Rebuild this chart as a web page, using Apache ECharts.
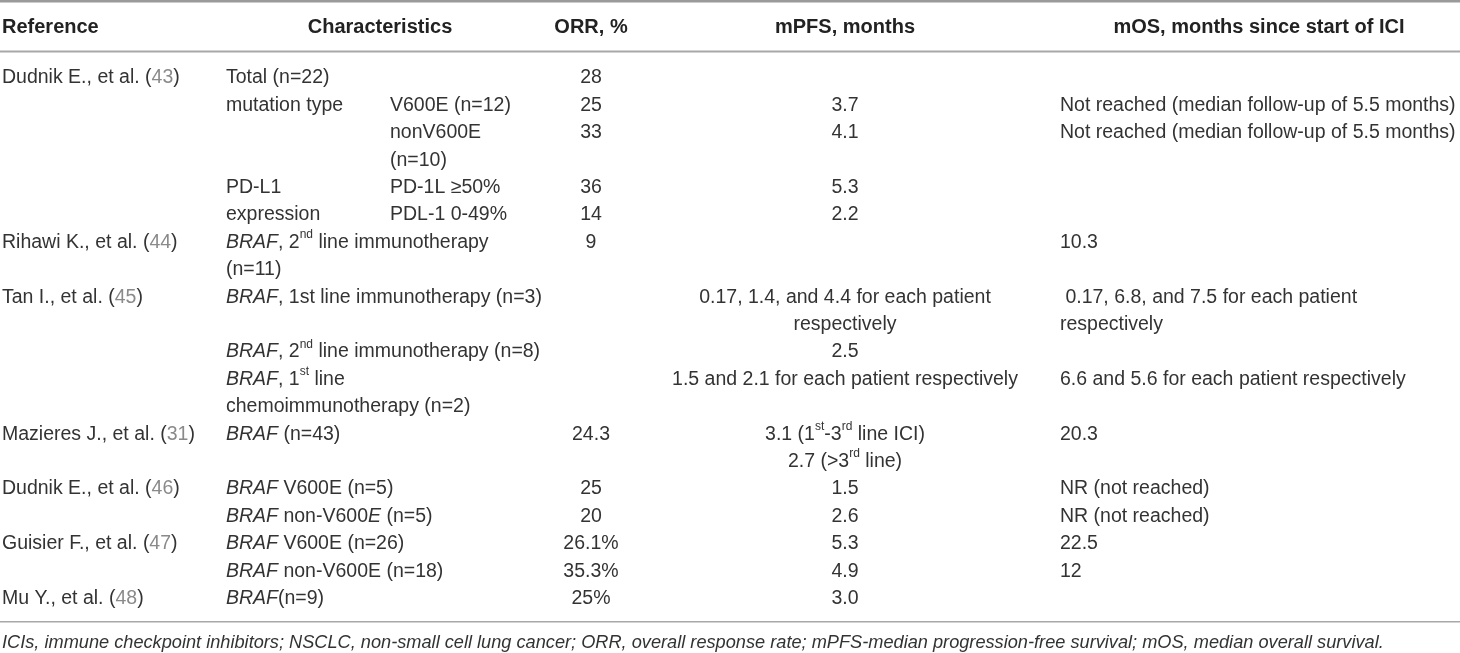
<!DOCTYPE html>
<html><head><meta charset="utf-8">
<script src="https://cdn.jsdelivr.net/npm/echarts@6/dist/echarts.min.js"></script>
<style>html,body{margin:0;padding:0;background:#fff}#c{width:1460px;height:653px}</style>
</head><body><div id="c"></div>
<script>
// ---------------- data ----------------
const headers = ['Reference', 'Characteristics', 'ORR, %', 'mPFS, months', 'mOS, months since start of ICI'];
const studies = ['Dudnik E., et al.', 'Rihawi K., et al.', 'Tan I., et al.', 'Mazieres J., et al.', 'Dudnik E., et al.', 'Guisier F., et al.', 'Mu Y., et al.'];
const citations = ['43', '44', '45', '31', '46', '47', '48'];
const studyLines = [0, 6, 8, 13, 15, 17, 19];
// one entry per printed text line of the table body (20 lines)
const charMain = [
  'Total (n=22)', 'mutation type', '', '', 'PD-L1', 'expression',
  '{i|BRAF}, 2{s|nd} line immunotherapy', '(n=11)',
  '{i|BRAF}, 1st line immunotherapy (n=3)', '',
  '{i|BRAF}, 2{s|nd} line immunotherapy (n=8)',
  '{i|BRAF}, 1{s|st} line', 'chemoimmunotherapy (n=2)',
  '{i|BRAF} (n=43)', '',
  '{i|BRAF} V600E (n=5)', '{i|BRAF} non-V600{i|E} (n=5)',
  '{i|BRAF} V600E (n=26)', '{i|BRAF} non-V600E (n=18)',
  '{i|BRAF}(n=9)'
];
const charSub = [
  '', 'V600E (n=12)', 'nonV600E', '(n=10)', 'PD-1L ≥50%', 'PDL-1 0-49%',
  '', '', '', '', '', '', '', '', '', '', '', '', '', ''
];
const orr = [
  '28', '25', '33', '', '36', '14', '9', '', '', '', '', '', '',
  '24.3', '', '25', '20', '26.1%', '35.3%', '25%'
];
const mpfs = [
  '', '3.7', '4.1', '', '5.3', '2.2', '', '',
  '0.17, 1.4, and 4.4 for each patient', 'respectively', '2.5',
  '1.5 and 2.1 for each patient respectively', '',
  '3.1 (1{s|st}-3{s|rd} line ICI)', '2.7 (>3{s|rd} line)',
  '1.5', '2.6', '5.3', '4.9', '3.0'
];
const mos = [
  '', 'Not reached (median follow-up of 5.5 months)', 'Not reached (median follow-up of 5.5 months)',
  '', '', '', '10.3', '',
  ' 0.17, 6.8, and 7.5 for each patient', 'respectively', '',
  '6.6 and 5.6 for each patient respectively', '',
  '20.3', '', 'NR (not reached)', 'NR (not reached)', '22.5', '12', ''
];
const footnote = 'ICIs, immune checkpoint inhibitors; NSCLC, non-small cell lung cancer; ORR, overall response rate; mPFS-median progression-free survival; mOS, median overall survival.';

// ---------------- layout / style ----------------
const W = 1460;
const LINE_H = 27.4;
const BODY_TOP = 64.3;
const FONT = '"Liberation Sans", Arial, sans-serif';
const FS = 19.5;
const TXT = '#333';
const colAnchor = {ref: 2, charMain: 226, charSub: 390, orr: 591, mpfs: 845, mos: 1060};
const colAlign = {ref: 'left', charMain: 'left', charSub: 'left', orr: 'center', mpfs: 'center', mos: 'left'};
const headerAnchor = [2, 380, 591, 845, 1259];
const headerAlign = ['left', 'center', 'center', 'center', 'center'];

const base = {fontSize: FS, fontFamily: FONT, fontStyle: 'normal', fontWeight: 'normal', fill: TXT, lineHeight: LINE_H};
const RICH = {
  n: Object.assign({}, base),
  i: Object.assign({}, base, {fontStyle: 'italic'}),
  c: Object.assign({}, base, {fill: '#8a8a8a'}),
  s: Object.assign({}, base, {fontSize: 12, lineHeight: 17, verticalAlign: 'top'})
};

// wrap untagged parts in {n|...}
function toRich(t) {
  const out = [];
  const re = /\{(\w)\|([^}]*)\}/g;
  let last = 0, m;
  while ((m = re.exec(t))) {
    if (m.index > last) out.push('{n|' + t.slice(last, m.index) + '}');
    out.push(m[0]);
    last = re.lastIndex;
  }
  if (last < t.length) out.push('{n|' + t.slice(last) + '}');
  return out.join('');
}

const lineCats = charMain.map((_, i) => String(i));
const refCol = new Array(lineCats.length).fill('');
studies.forEach((s, k) => { refCol[studyLines[k]] = s + ' ({c|' + citations[k] + '})'; });

const columns = {ref: refCol, charMain, charSub, orr, mpfs, mos};
const cells = [];
Object.keys(columns).forEach(key => {
  columns[key].forEach((t, line) => {
    if (t) cells.push({value: [colAnchor[key], line], text: toRich(t), align: colAlign[key]});
  });
});

const chart = echarts.init(document.getElementById('c'), null, {renderer: 'canvas'});
const graphics = [
  {type: 'rect', shape: {x: 0, y: 0, width: W, height: 2.5}, style: {fill: '#9a9a9a'}},
  {type: 'rect', shape: {x: 0, y: 50.5, width: W, height: 2}, style: {fill: '#a8a8a8'}},
  {type: 'rect', shape: {x: 0, y: 621, width: W, height: 1.5}, style: {fill: '#a8a8a8'}},
  {type: 'text', x: 2, y: 643, style: {text: footnote, fontSize: 18.2, fontFamily: FONT, fontStyle: 'italic', fill: TXT, align: 'left', verticalAlign: 'middle'}}
];
headers.forEach((h, k) => {
  graphics.push({type: 'text', x: headerAnchor[k], y: 27, style: {text: h, fontSize: 20, fontWeight: 'bold', fontFamily: FONT, fill: '#222', align: headerAlign[k], verticalAlign: 'middle'}});
});

chart.setOption({
  animation: false,
  grid: {left: 0, right: 0, top: BODY_TOP, height: LINE_H * lineCats.length},
  xAxis: {type: 'value', min: 0, max: W, show: false},
  yAxis: {type: 'category', data: lineCats, inverse: true, show: false},
  graphic: graphics,
  series: [{
    type: 'custom',
    data: cells.map(c => c.value),
    renderItem: function (params, api) {
      const c = cells[params.dataIndex];
      const p = api.coord([api.value(0), api.value(1)]);
      return {
        type: 'text', x: p[0], y: p[1],
        style: Object.assign({}, base, {text: c.text, align: c.align, verticalAlign: 'middle', rich: RICH})
      };
    }
  }]
});
</script></body></html>
